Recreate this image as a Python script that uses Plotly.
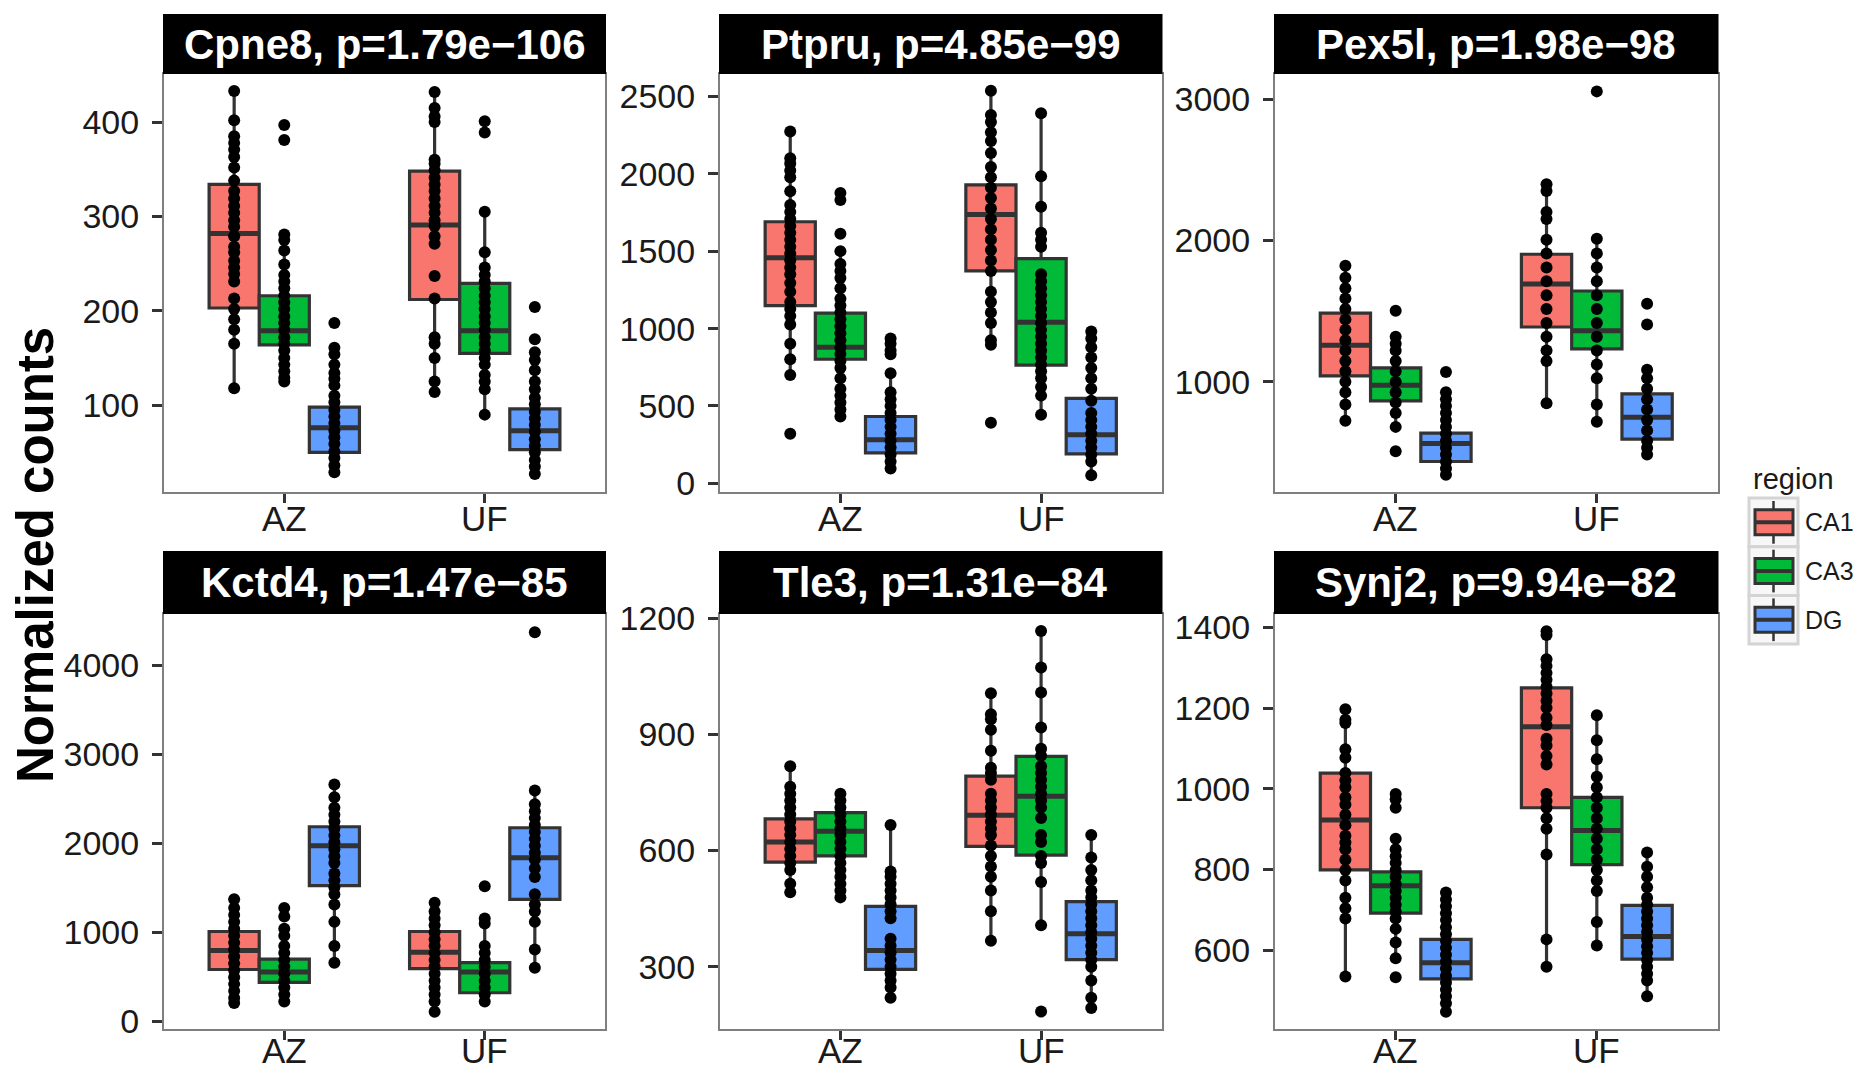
import plotly.graph_objects as go

W, H = 1858, 1073

genes = ["Cpne8", "Ptpru", "Pex5l", "Kctd4", "Tle3", "Synj2"]
pvals = ["1.79e−106", "4.85e−99", "1.98e−98", "1.47e−85", "1.31e−84", "9.94e−82"]
sites = ["AZ", "UF"]
regions = ["CA1", "CA3", "DG"]
region_colors = ["#F8766D", "#00BA38", "#619CFF"]

# group order: AZ-CA1, AZ-CA3, AZ-DG, UF-CA1, UF-CA3, UF-DG ; box = [q1, median, q3]
cpne8_box = [[203, 282, 334], [164, 179, 216], [50, 76, 98], [212, 291, 348], [155, 179, 229], [53, 73, 96]]
cpne8_pts = [
    [433, 402, 385, 378, 371, 363, 352, 338, 327, 319, 311, 304, 296, 289, 279, 268, 262, 253, 246, 239, 231, 213, 202, 191, 180, 165, 118],
    [397, 381, 281, 275, 264, 249, 238, 231, 224, 216, 209, 202, 194, 187, 180, 172, 165, 158, 150, 143, 136, 129, 125],
    [187, 161, 154, 143, 134, 128, 121, 110, 103, 95, 88, 81, 73, 66, 59, 51, 44, 36, 29],
    [432, 415, 406, 400, 360, 356, 349, 341, 334, 327, 319, 311, 304, 296, 290, 279, 271, 237, 213, 172, 165, 150, 125, 114],
    [401, 389, 305, 262, 246, 238, 231, 224, 216, 209, 202, 194, 187, 180, 172, 165, 158, 150, 143, 132, 125, 117, 90],
    [204, 170, 156, 148, 137, 125, 117, 108, 101, 93, 86, 79, 72, 64, 57, 50, 42, 35, 27],
]

ptpru_box = [[1149, 1458, 1691], [802, 880, 1100], [197, 282, 432], [1373, 1738, 1929], [764, 1042, 1452], [190, 314, 549]]
ptpru_pts = [
    [2274, 2101, 2068, 2023, 1978, 1888, 1799, 1754, 1709, 1664, 1620, 1575, 1530, 1485, 1442, 1396, 1351, 1295, 1239, 1172, 1127, 1082, 1026, 903, 802, 701, 320],
    [1877, 1832, 1613, 1501, 1418, 1373, 1328, 1261, 1194, 1149, 1104, 1060, 1015, 970, 925, 880, 836, 791, 746, 679, 612, 567, 522, 477, 432],
    [936, 903, 858, 835, 712, 589, 544, 500, 455, 410, 365, 320, 276, 231, 186, 141, 96],
    [2538, 2381, 2336, 2269, 2213, 2135, 2045, 1978, 1911, 1844, 1776, 1709, 1642, 1575, 1508, 1440, 1373, 1239, 1172, 1104, 1037, 925, 896, 392],
    [2392, 1985, 1788, 1620, 1575, 1530, 1351, 1306, 1261, 1216, 1172, 1127, 1082, 1037, 992, 948, 903, 858, 813, 768, 724, 679, 623, 567, 444],
    [981, 936, 880, 813, 746, 679, 612, 534, 455, 410, 365, 320, 276, 231, 186, 141, 52],
]

pex5l_box = [[1042, 1258, 1486], [865, 975, 1098], [436, 563, 637], [1388, 1692, 1903], [1233, 1361, 1643], [595, 750, 914]]
pex5l_pts = [
    [1822, 1736, 1663, 1589, 1515, 1442, 1368, 1294, 1221, 1147, 1074, 1000, 926, 840, 725],
    [1503, 1319, 1270, 1221, 1147, 1074, 1000, 926, 853, 779, 681, 509],
    [1069, 926, 877, 828, 779, 730, 681, 632, 583, 534, 485, 436, 387, 342],
    [2399, 2350, 2202, 2153, 2006, 1908, 1810, 1712, 1613, 1515, 1417, 1319, 1221, 1147, 848],
    [3056, 2013, 1908, 1810, 1712, 1613, 1515, 1417, 1319, 1221, 1123, 1025, 840, 718],
    [1552, 1405, 1086, 1025, 951, 877, 804, 730, 656, 583, 534, 485],
]

kctd4_box = [[583, 796, 1010], [439, 555, 699], [1526, 1973, 2186], [594, 777, 1010], [322, 555, 660], [1371, 1837, 2175]]
kctd4_pts = [
    [1371, 1274, 1196, 1118, 1041, 963, 885, 808, 730, 652, 575, 497, 419, 342, 264, 206],
    [1274, 1177, 1041, 963, 847, 769, 691, 614, 536, 458, 381, 303, 225],
    [2660, 2517, 2400, 2322, 2245, 2167, 2089, 2012, 1934, 1856, 1779, 1662, 1584, 1507, 1429, 1313, 1118, 847, 660],
    [1332, 1235, 1157, 1080, 1002, 924, 847, 769, 691, 614, 536, 458, 381, 303, 225, 109],
    [1518, 1157, 1099, 847, 769, 691, 614, 536, 458, 381, 303, 225],
    [4369, 2594, 2439, 2361, 2283, 2206, 2128, 2050, 1973, 1895, 1817, 1720, 1623, 1429, 1313, 1235, 1118, 808, 602],
]

tle3_box = [[570, 622, 682], [586, 650, 698], [293, 342, 456], [611, 691, 792], [588, 740, 843], [318, 385, 468]]
tle3_pts = [
    [818, 765, 747, 729, 711, 693, 675, 657, 640, 622, 604, 586, 568, 550, 514, 492],
    [747, 729, 711, 693, 675, 657, 640, 622, 604, 586, 568, 550, 532, 514, 497, 479],
    [666, 546, 532, 514, 497, 479, 461, 443, 425, 372, 354, 336, 318, 300, 282, 264, 246, 220],
    [1006, 952, 939, 912, 858, 814, 800, 783, 747, 729, 711, 693, 675, 657, 640, 613, 586, 559, 532, 497, 443, 367],
    [1167, 1073, 1008, 918, 863, 845, 818, 800, 783, 765, 747, 729, 711, 684, 640, 622, 586, 568, 519, 407, 184],
    [640, 582, 550, 523, 497, 479, 461, 443, 425, 407, 389, 372, 354, 336, 318, 300, 264, 220, 193],
]

synj2_box = [[799, 923, 1039], [692, 760, 794], [529, 569, 627], [953, 1154, 1250], [812, 897, 979], [578, 634, 711]]
synj2_pts = [
    [1197, 1171, 1163, 1098, 1077, 1039, 1021, 1004, 979, 961, 936, 910, 884, 867, 850, 824, 799, 773, 730, 704, 679, 535],
    [987, 974, 953, 876, 850, 833, 816, 799, 782, 764, 747, 730, 713, 696, 679, 653, 619, 580, 533],
    [743, 726, 709, 692, 675, 657, 640, 623, 606, 589, 572, 555, 537, 520, 503, 486, 469, 448],
    [1390, 1381, 1321, 1304, 1287, 1270, 1253, 1236, 1218, 1201, 1176, 1158, 1124, 1107, 1081, 1060, 987, 970, 953, 927, 901, 837, 627, 559],
    [1182, 1120, 1073, 1030, 1004, 979, 953, 927, 901, 876, 850, 824, 799, 773, 747, 670, 612],
    [842, 807, 782, 756, 730, 713, 696, 679, 662, 645, 627, 610, 593, 576, 559, 542, 525, 486],
]

all_box = [cpne8_box, ptpru_box, pex5l_box, kctd4_box, tle3_box, synj2_box]
all_pts = [cpne8_pts, ptpru_pts, pex5l_pts, kctd4_pts, tle3_pts, synj2_pts]

# ---- layout (pixels) ----
y_ranges = [[8, 451], [-56, 2646], [220, 3179], [-85, 4575], [139, 1211], [405, 1433]]
y_dticks = [100, 500, 1000, 1000, 300, 200]
cols_px = [(164, 605), (720, 1161.5), (1275, 1717.5)]
# plot top, plot bottom, strip top, strip bottom, x-label centre
rows_px = [(74, 492, 14, 74, 518), (614, 1029, 551, 614, 1050)]
FONT = "Liberation Sans, Arial, sans-serif"
BOX_W = 0.25
offsets = [-0.25, 0.0, 0.25]
OUTLINE = "#333333"


def px_x(v):
    return v / W


def px_y(v):
    return 1 - v / H


def fences(q1, q3, pts):
    iqr = q3 - q1
    hi = [p for p in pts if p <= q3 + 1.5 * iqr]
    lo = [p for p in pts if p >= q1 - 1.5 * iqr]
    return (min(lo) if lo else q1), (max(hi) if hi else q3)


fig = go.Figure()
shapes = []
annotations = []

for k in range(6):
    r, c = divmod(k, 3)
    ax = "" if k == 0 else str(k + 1)
    xref, yref = "x" + ax, "y" + ax
    boxes, pts = all_box[k], all_pts[k]

    # boxes
    for ri, reg in enumerate(regions):
        xs, q1s, meds, q3s, los, his = [], [], [], [], [], []
        for si, site in enumerate(sites):
            g = si * 3 + ri
            q1, med, q3 = boxes[g]
            lo, hi = fences(q1, q3, pts[g])
            xs.append(si + 1 + offsets[ri])
            q1s.append(q1); meds.append(med); q3s.append(q3)
            los.append(lo); his.append(hi)
        fig.add_trace(go.Box(
            x=xs, q1=q1s, median=meds, q3=q3s, lowerfence=los, upperfence=his,
            width=BOX_W, fillcolor=region_colors[ri],
            line=dict(color=OUTLINE, width=3.2), whiskerwidth=0,
            boxpoints=False, showlegend=False, hoverinfo="skip",
            xaxis=xref, yaxis=yref,
        ))
    # thick median lines
    mx, my = [], []
    for ri in range(3):
        for si in range(2):
            g = si * 3 + ri
            cx = si + 1 + offsets[ri]
            mx += [cx - BOX_W / 2, cx + BOX_W / 2, None]
            my += [boxes[g][1], boxes[g][1], None]
    fig.add_trace(go.Scatter(x=mx, y=my, mode="lines", line=dict(color=OUTLINE, width=5),
                             showlegend=False, hoverinfo="skip", xaxis=xref, yaxis=yref))
    # points
    for ri in range(3):
        for si in range(2):
            g = si * 3 + ri
            cx = si + 1 + offsets[ri]
            fig.add_trace(go.Scatter(
                x=[cx] * len(pts[g]), y=pts[g], mode="markers",
                marker=dict(color="black", size=12, line=dict(width=0)),
                showlegend=False, hoverinfo="skip", xaxis=xref, yaxis=yref,
            ))

    x0, x1 = cols_px[c]
    ptop, pbot, stop, sbot, xlab = rows_px[r]
    fig.layout["xaxis" + ax] = dict(
        domain=[px_x(x0), px_x(x1)], anchor=yref, range=[0.4, 2.6], automargin=False,
        tickvals=[1, 2], ticktext=sites, showticklabels=False,
        ticks="outside", ticklen=9, tickwidth=2.5,
        tickcolor=OUTLINE, showline=True, mirror=True, linecolor="#7f7f7f", linewidth=2,
        showgrid=False, zeroline=False, fixedrange=True,
    )
    fig.layout["yaxis" + ax] = dict(
        domain=[px_y(pbot), px_y(ptop)], anchor=xref, range=y_ranges[k], automargin=False,
        tick0=0, dtick=y_dticks[k], ticks="outside", ticklen=10, tickwidth=2.5,
        tickcolor=OUTLINE, showline=True, mirror=True, linecolor="#7f7f7f", linewidth=2,
        showgrid=False, zeroline=False, tickfont=dict(family=FONT, size=34, color="#1a1a1a"),
        ticklabelstandoff=6, fixedrange=True,
    )
    # x tick labels (category names) placed under each panel
    for si, site in enumerate(sites):
        annotations.append(dict(xref=xref, yref="paper", x=si + 1, y=px_y(xlab), text=site,
                                showarrow=False, xanchor="center", yanchor="middle",
                                font=dict(family=FONT, size=35, color="#1a1a1a")))
    # strip
    shapes.append(dict(type="rect", xref="paper", yref="paper",
                       x0=px_x(x0 - 1), x1=px_x(x1 + 1), y0=px_y(sbot), y1=px_y(stop),
                       fillcolor="black", line=dict(width=0), layer="above"))
    annotations.append(dict(xref="paper", yref="paper", x=px_x((x0 + x1) / 2), y=px_y((stop + sbot) / 2),
                            text="<b>%s, p=%s</b>" % (genes[k], pvals[k]), showarrow=False,
                            xanchor="center", yanchor="middle",
                            font=dict(family=FONT, size=42, color="white")))

# y-axis title
annotations.append(dict(xref="paper", yref="paper", x=px_x(35), y=px_y(555), text="<b>Normalized counts</b>",
                        textangle=-90, showarrow=False, xanchor="center", yanchor="middle",
                        font=dict(family=FONT, size=51, color="black")))

# legend (manual, ggplot style)
annotations.append(dict(xref="paper", yref="paper", x=px_x(1751), y=px_y(479), text="region",
                        showarrow=False, xanchor="left", yanchor="middle",
                        font=dict(family=FONT, size=29, color="#1a1a1a")))
key_x0, key_x1, key_top, key_h = 1749, 1798, 498, 48.7
for ri, reg in enumerate(regions):
    t = key_top + ri * key_h
    b = t + key_h
    cy = (t + b) / 2
    shapes.append(dict(type="rect", xref="paper", yref="paper", x0=px_x(key_x0), x1=px_x(key_x1),
                       y0=px_y(b), y1=px_y(t), fillcolor="#f7f7f7", line=dict(color="#d4d4d4", width=3)))
    cxk = (key_x0 + key_x1) / 2
    shapes.append(dict(type="line", xref="paper", yref="paper", x0=px_x(cxk), x1=px_x(cxk),
                       y0=px_y(t + 3), y1=px_y(b - 3), line=dict(color=OUTLINE, width=2.5)))
    shapes.append(dict(type="rect", xref="paper", yref="paper", x0=px_x(1755), x1=px_x(1793),
                       y0=px_y(cy + 12.5), y1=px_y(cy - 12.5), fillcolor=region_colors[ri],
                       line=dict(color=OUTLINE, width=3)))
    shapes.append(dict(type="line", xref="paper", yref="paper", x0=px_x(1755), x1=px_x(1793),
                       y0=px_y(cy), y1=px_y(cy), line=dict(color=OUTLINE, width=4)))
    annotations.append(dict(xref="paper", yref="paper", x=px_x(1803), y=px_y(cy), text=reg,
                            showarrow=False, xanchor="left", yanchor="middle",
                            font=dict(family=FONT, size=25, color="#1a1a1a")))

fig.update_layout(
    width=W, height=H, margin=dict(l=0, r=0, t=0, b=0, autoexpand=False), autosize=False,
    paper_bgcolor="white", plot_bgcolor="white", showlegend=False,
    shapes=shapes, annotations=annotations, font=dict(family=FONT),
)

fig.write_html("out.html", config={"displayModeBar": False})
